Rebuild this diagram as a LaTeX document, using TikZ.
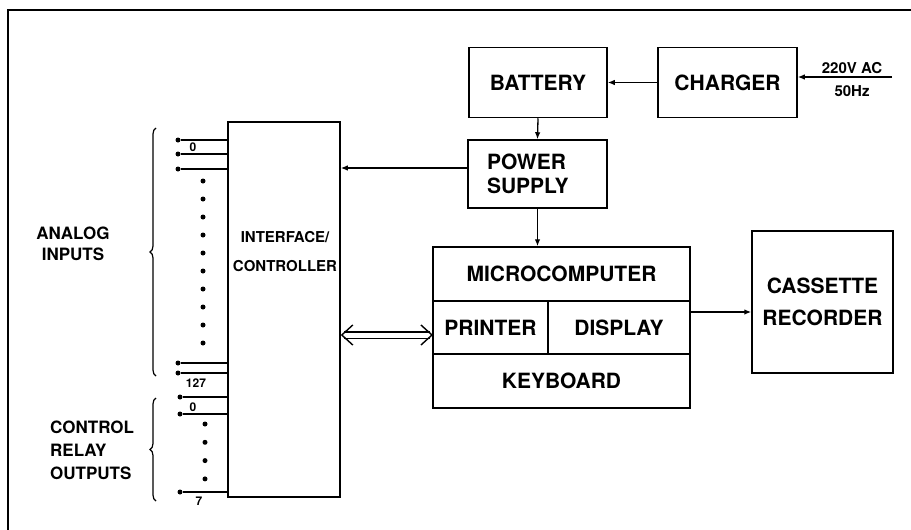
\documentclass[tikz,border=0pt]{standalone}
\usepackage{fontspec}
\setmainfont{TeX Gyre Heros}
\usepackage{tikz}
\usetikzlibrary{arrows.meta,positioning,calc,decorations.pathreplacing}

\begin{document}
\begin{tikzpicture}[
    x=1pt, y=-1pt,
    >={Latex[length=7pt,width=5.5pt]},
    block/.style={draw, line width=1.5pt, align=center, inner sep=0pt, font=\bfseries\fontsize{21}{32}\selectfont},
    smalltext/.style={align=center, inner sep=0pt, font=\bfseries\fontsize{15}{29}\selectfont},
    pinlabel/.style={inner sep=0pt, font=\bfseries\fontsize{12}{12}\selectfont},
    terminal/.style={circle, fill, inner sep=0pt, minimum size=5pt},
    pindot/.style={circle, fill, inner sep=0pt, minimum size=5pt},
    solidlink/.style={->, line width=1.3pt},
    wire/.style={line width=1.3pt},
    busline/.style={double, double distance=5pt, line width=1.2pt, shorten <=3pt, shorten >=3pt},
    bustip/.style={line width=1.4pt, -{Straight Barb[length=11pt,width=20pt]}},
    bracket/.style={line width=1.2pt, decorate, decoration={brace, amplitude=6pt}}
]
\useasboundingbox (0,0) rectangle (911,530);
\draw[line width=1.8pt] (8,530) -- (8,10) -- (911,10);

% power chain
\node[block, minimum width=138pt, minimum height=70pt] (batt) at (538,82.5) {BATTERY};
\node[block, minimum width=139pt, minimum height=70pt] (charger) at (727.5,82.5) {CHARGER};
\node[block, minimum width=139pt, minimum height=68pt, text width=101pt, align=left, font=\bfseries\fontsize{21}{24}\selectfont] (ps) at (537.5,174) {POWER\\SUPPLY};
\node[smalltext, font=\bfseries\fontsize{15}{23}\selectfont] (mains) at (852,80) {220V AC\\50Hz};
\coordinate (acin) at (892,77);

% microcomputer unit
\node[block, minimum width=257pt, minimum height=54pt] (mcu) at (561.5,274) {MICROCOMPUTER};
\node[block, minimum width=115pt, minimum height=53pt] (printer) at (490.5,327.5) {PRINTER};
\node[block, minimum width=142pt, minimum height=53pt] (display) at (619,327.5) {DISPLAY};
\node[block, minimum width=257pt, minimum height=54pt] (keyboard) at (561.5,381) {KEYBOARD};
\node[block, minimum width=141pt, minimum height=142pt] (cassette) at (822.5,302) {CASSETTE\\RECORDER};

% interface
\node[draw, line width=1.5pt, minimum width=112pt, minimum height=375pt] (iface) at (284,309.5) {};
\node[smalltext] (ifacetext) at (285,252) {INTERFACE/\\CONTROLLER};

\coordinate (pstap) at (468,168);
\coordinate (bus) at (433,335);
\coordinate (busl) at (iface.east |- bus);
\coordinate (mcout) at (690,312);

\draw[solidlink] (acin) -- (acin -| charger.east);
\draw[solidlink] (charger.west) -- (batt.east);
\draw[solidlink] (batt.south) -- (ps.north);
\draw[solidlink] (ps.south) -- (ps.south |- mcu.north);
\draw[solidlink] (pstap) -- (pstap -| iface.east);
\draw[solidlink] (mcout) -- (mcout -| cassette.west);
\draw[busline] (busl) -- (bus);
\draw[bustip] ($(busl)+(1,0)$) -- (busl);
\draw[bustip] ($(bus)+(-1,0)$) -- (bus);

% analog inputs
\foreach \name/\ypos in {a0/140, a1/154, a2/169, a126/363, a127/373}
{
    \node[terminal] (\name) at (178,\ypos) {};
    \draw[wire] (\name) -- (\name -| iface.west);
}
\foreach \k in {0,...,9}
    \node[pindot] (adot\k) at (203,181+18*\k) {};
\node[pinlabel] (lbla0) at (193,147) {0};
\node[pinlabel] (lbla127) at (196,383) {127};

% relay outputs
\foreach \name/\ypos in {r0/397, r1/414, r7/492}
{
    \node[terminal] (\name) at (180,\ypos) {};
    \draw[wire] (\name) -- (\name -| iface.west);
}
\foreach \k in {0,...,3}
    \node[pindot] (rdot\k) at (205,424+18.3*\k) {};
\node[pinlabel] (lblr0) at (193,407) {0};
\node[pinlabel] (lblr7) at (199,501) {7};

% braces and group labels
\draw[bracket] (156,376) -- (156,128);
\draw[bracket] (156,501) -- (156,398);
\node[smalltext, font=\bfseries\fontsize{17}{21}\selectfont] (analog) at (73,244) {ANALOG\\INPUTS};
\node[smalltext, align=left, anchor=west, font=\bfseries\fontsize{17}{23}\selectfont] (relays) at (50,450) {CONTROL\\RELAY\\OUTPUTS};
\end{tikzpicture}
\end{document}
